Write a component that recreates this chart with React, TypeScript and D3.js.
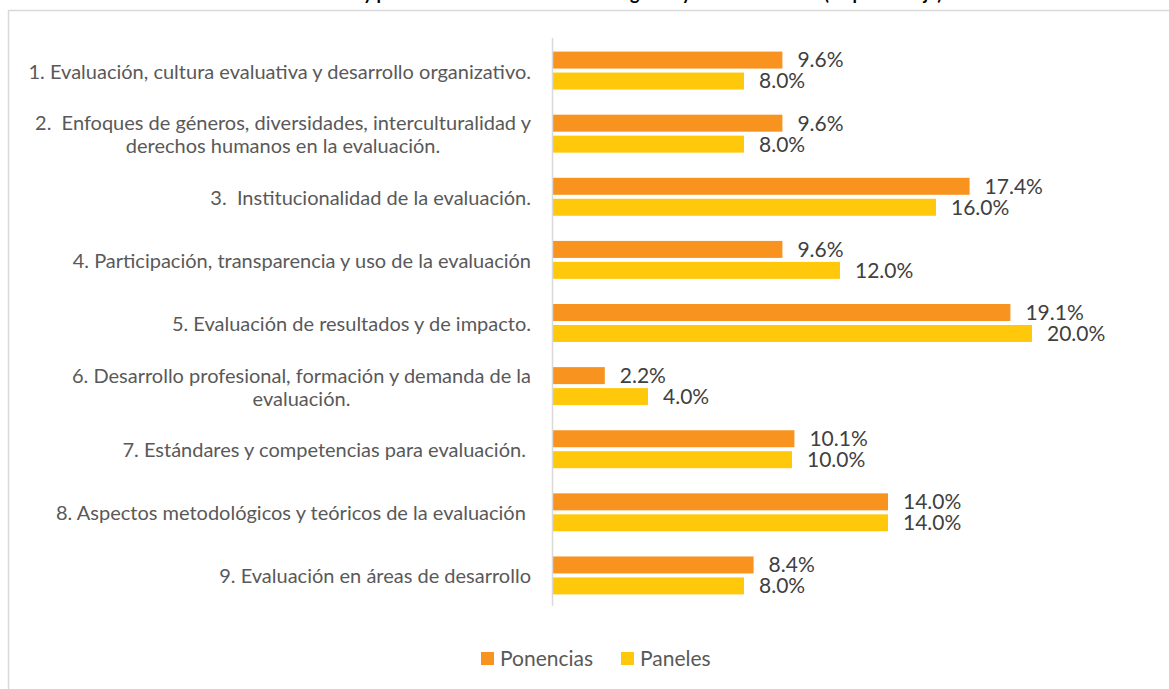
import { useEffect, useRef } from 'react';
import * as d3 from 'd3';

const categories: string[][] = [
  ['1. Evaluación, cultura evaluativa y desarrollo organizativo.'],
  ['2.  Enfoques de géneros, diversidades, interculturalidad y', 'derechos humanos en la evaluación.'],
  ['3.  Institucionalidad de la evaluación.'],
  ['4. Participación, transparencia y uso de la evaluación'],
  ['5. Evaluación de resultados y de impacto.'],
  ['6. Desarrollo profesional, formación y demanda de la', 'evaluación.'],
  ['7. Estándares y competencias para evaluación. '],
  ['8. Aspectos metodológicos y teóricos de la evaluación '],
  ['9. Evaluación en áreas de desarrollo'],
];

const ponencias = [9.6, 9.6, 17.4, 9.6, 19.1, 2.2, 10.1, 14.0, 8.4];
const paneles = [8.0, 8.0, 16.0, 12.0, 20.0, 4.0, 10.0, 14.0, 8.0];

const seriesNames = ['Ponencias', 'Paneles'];
const seriesColors = ['#F7931E', '#FFC80B'];

const title = 'Ponencias y paneles: distribución de las categorías y áreas temáticas (en porcentaje)';

const FONT = 'Lato, "Open Sans", sans-serif';

export default function App() {
  const svgRef = useRef<SVGSVGElement>(null);

  useEffect(() => {
    if (!svgRef.current) return;
    const svg = d3.select(svgRef.current);
    svg.selectAll('*').remove();

    // chart frame (runs off the right and bottom edge)
    svg.append('rect')
      .attr('x', 8.5)
      .attr('y', 10.5)
      .attr('width', 1300)
      .attr('height', 800)
      .attr('fill', '#fff')
      .attr('stroke', '#d9d9d9')
      .attr('stroke-width', 1.5);

    // clipped title, only the descenders show
    svg.append('text')
      .attr('x', 278)
      .attr('y', 0)
      .attr('font-family', FONT)
      .attr('font-weight', 'bold')
      .attr('font-size', 18)
      .attr('fill', '#000')
      .text(title);

    const idx = categories.map((_, i) => i);
    const x = d3.scaleLinear().domain([0, 20]).range([552, 1032]);
    const y = d3.scaleBand<number>().domain(idx).range([39, 607]);
    const ys = d3.scaleBand<string>()
      .domain(seriesNames)
      .range([0, y.bandwidth()])
      .paddingInner(0.19)
      .paddingOuter(0.6);

    const values = [ponencias, paneles];

    const g = svg.append('g');

    values.forEach((vals, s) => {
      const name = seriesNames[s];
      g.selectAll(`rect.s${s}`)
        .data(vals)
        .join('rect')
        .attr('class', `s${s}`)
        .attr('x', x(0))
        .attr('y', (_, i) => (y(i) as number) + (ys(name) as number))
        .attr('width', (d) => x(d) - x(0))
        .attr('height', ys.bandwidth())
        .attr('fill', seriesColors[s]);

      g.selectAll(`text.l${s}`)
        .data(vals)
        .join('text')
        .attr('class', `l${s}`)
        .attr('x', (d) => x(d) + 15)
        .attr('y', (_, i) => (y(i) as number) + (ys(name) as number) + ys.bandwidth() / 2)
        .attr('dy', '0.35em')
        .attr('font-family', FONT)
        .attr('font-size', 21)
        .attr('fill', '#404040')
        .text((d) => `${d.toFixed(1)}%`);
    });

    // axis line
    g.append('line')
      .attr('x1', x(0) + 0.5)
      .attr('x2', x(0) + 0.5)
      .attr('y1', 38)
      .attr('y2', 606)
      .attr('stroke', '#d9d9d9')
      .attr('stroke-width', 1.5);

    // category labels: block right-aligned, lines centred
    const labelRight = 531;
    const lineH = 23;
    categories.forEach((lines, i) => {
      const cy = (y(i) as number) + y.bandwidth() / 2 + 1;
      const t = g.append('text')
        .attr('font-family', FONT)
        .attr('font-size', 20)
        .attr('fill', '#595959')
        .style('white-space', 'pre');
      const spans = lines.map((ln, k) =>
        t.append('tspan')
          .attr('y', cy + (k - (lines.length - 1) / 2) * lineH)
          .attr('dy', '0.35em')
          .text(ln)
      );
      const widths = spans.map((sp) => (sp.node() as SVGTSpanElement).getComputedTextLength());
      const maxW = d3.max(widths) ?? 0;
      spans.forEach((sp) => {
        sp.attr('x', labelRight - maxW / 2).attr('text-anchor', 'middle');
      });
    });

    // legend
    const legend = svg.append('g');
    const legendX = [481, 621];
    seriesNames.forEach((name, s) => {
      legend.append('rect')
        .attr('x', legendX[s])
        .attr('y', 652)
        .attr('width', 13)
        .attr('height', 13)
        .attr('fill', seriesColors[s]);
      legend.append('text')
        .attr('x', legendX[s] + 19)
        .attr('y', 659)
        .attr('dy', '0.35em')
        .attr('font-family', FONT)
        .attr('font-size', 21)
        .attr('fill', '#595959')
        .text(name);
    });
  }, []);

  return (
    <svg
      ref={svgRef}
      width={1169}
      height={689}
      style={{ position: 'absolute', left: 0, top: 0, display: 'block' }}
    />
  );
}
